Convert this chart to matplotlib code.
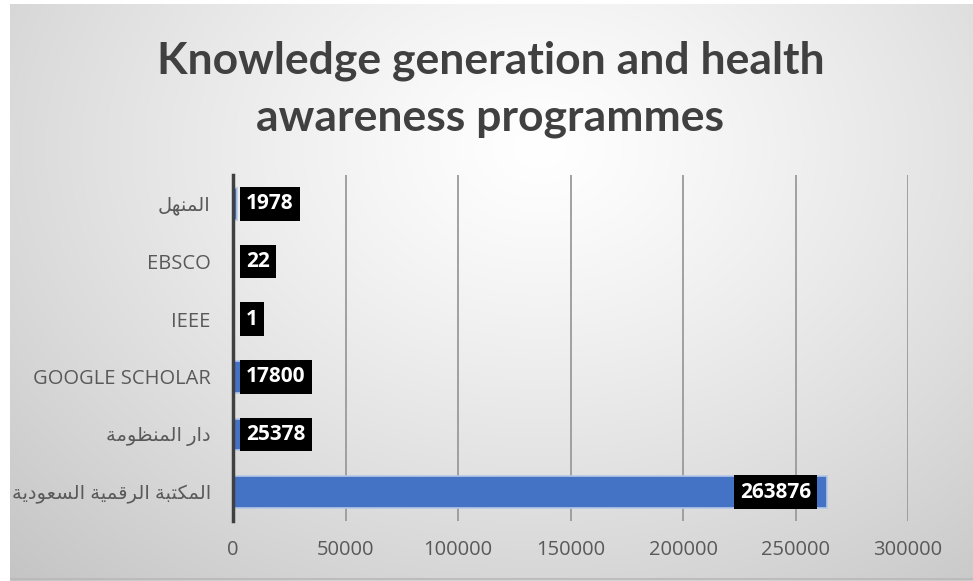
import numpy as np
import matplotlib
matplotlib.use("Agg")
import matplotlib.pyplot as plt

# ---------------- data ----------------
categories = ["المكتبة الرقمية السعودية", "دار المنظومة", "GOOGLE SCHOLAR", "IEEE", "EBSCO", "المنهل"]
values = [263876, 25378, 17800, 1, 22, 1978]
xticks = [0, 50000, 100000, 150000, 200000, 250000, 300000]
title = "Knowledge generation and health\nawareness programmes"

# ---------------- minimal Arabic shaping ----------------
FORMS = {  # isolated, final, initial, medial
    'ا': ('\uFE8D', '\uFE8E', None, None),
    'ب': ('\uFE8F', '\uFE90', '\uFE91', '\uFE92'),
    'ة': ('\uFE93', '\uFE94', None, None),
    'ت': ('\uFE95', '\uFE96', '\uFE97', '\uFE98'),
    'د': ('\uFEA9', '\uFEAA', None, None),
    'ر': ('\uFEAD', '\uFEAE', None, None),
    'س': ('\uFEB1', '\uFEB2', '\uFEB3', '\uFEB4'),
    'ظ': ('\uFEC5', '\uFEC6', '\uFEC7', '\uFEC8'),
    'ع': ('\uFEC9', '\uFECA', '\uFECB', '\uFECC'),
    'ق': ('\uFED5', '\uFED6', '\uFED7', '\uFED8'),
    'ك': ('\uFED9', '\uFEDA', '\uFEDB', '\uFEDC'),
    'ل': ('\uFEDD', '\uFEDE', '\uFEDF', '\uFEE0'),
    'م': ('\uFEE1', '\uFEE2', '\uFEE3', '\uFEE4'),
    'ن': ('\uFEE5', '\uFEE6', '\uFEE7', '\uFEE8'),
    'ه': ('\uFEE9', '\uFEEA', '\uFEEB', '\uFEEC'),
    'و': ('\uFEED', '\uFEEE', None, None),
    'ي': ('\uFEF1', '\uFEF2', '\uFEF3', '\uFEF4'),
}


def dual(c):
    return c in FORMS and FORMS[c][2] is not None


def shape(s):
    if not any(c in FORMS for c in s):
        return s
    out = []
    for i, c in enumerate(s):
        if c not in FORMS:
            out.append(c)
            continue
        prev = s[i - 1] if i > 0 else ''
        nxt = s[i + 1] if i + 1 < len(s) else ''
        jp = dual(prev)
        jn = dual(c) and nxt in FORMS
        f = FORMS[c]
        if jp and jn:
            g = f[3]
        elif jp:
            g = f[1]
        elif jn:
            g = f[2]
        else:
            g = f[0]
        out.append(g)
    return ''.join(out)[::-1]


W, H, DPI = 973, 581, 100
fig = plt.figure(figsize=(W / DPI, H / DPI), dpi=DPI, facecolor='white')

# background radial gradient
bg = fig.add_axes([10 / W, 0, 1 - 10 / W, 1 - 4 / H], zorder=-10)
yy, xx = np.mgrid[0:1:300j, 0:1:500j]
d = np.sqrt(((xx - 0.55) / 0.75) ** 2 + ((yy - 0.25) / 0.95) ** 2)
g = 1.0 - 0.21 * np.clip(d, 0, 1.2) ** 1.2
bg.imshow(np.dstack([g, g, g]), aspect='auto', extent=[0, 1, 1, 0], interpolation='bilinear')
bg.set_xlim(0, 1); bg.set_ylim(1, 0)
bg.axis('off')
bg.plot([0, 1], [0.004, 0.004], color='#b8b8b8', lw=1.2, transform=bg.transAxes)

ax = fig.add_axes([233 / W, 1 - 521 / H, (908 - 233) / W, (521 - 175) / H])
ax.patch.set_alpha(0)

y = np.arange(len(categories))
ax.barh(y, values, height=0.55, color='#4472C4', edgecolor='#b4c7e7', linewidth=1.2, zorder=3)

ax.set_xlim(0, 300000)
ax.set_ylim(-0.5, len(categories) - 0.5)
ax.set_xticks(xticks)
ax.set_xticklabels([str(t) for t in xticks])
ax.set_yticks(y)
ax.set_yticklabels([shape(c) for c in categories])

ax.grid(axis='x', color='#9a9a9a', lw=1.3, zorder=1)
for s in ['top', 'right', 'bottom']:
    ax.spines[s].set_visible(False)
ax.spines['left'].set_color('#404040')
ax.spines['left'].set_linewidth(2.5)
ax.spines['left'].set_zorder(5)
ax.tick_params(axis='both', length=0, colors='#595959', labelsize=14.5)
ax.tick_params(axis='x', pad=14)
ax.tick_params(axis='y', pad=16)
for lab in ax.get_xticklabels():
    lab.set_fontfamily(['Open Sans', 'DejaVu Sans'])
for lab in ax.get_yticklabels():
    lab.set_fontfamily(['Open Sans', 'DejaVu Sans'])
    if any(c in FORMS for c in lab.get_text()) or any('\uFE70' <= c <= '\uFEFF' for c in lab.get_text()):
        lab.set_fontsize(14)

# data labels
for yi, v in zip(y, values):
    if v > 100000:
        x, ha = v - 7000, 'right'
    else:
        x, ha = 5800, 'left'
    ax.text(x, yi, str(v), ha=ha, va='center', color='white', fontsize=15,
            fontweight='bold', family=['Open Sans', 'DejaVu Sans'], zorder=6,
            bbox=dict(boxstyle='square,pad=0.3', fc='black', ec='none'))

fig.text(0.5 + 4 / W, 1 - 89 / H, title, ha='center', va='center', fontsize=32,
         fontweight='bold', color='#404040', family=['Lato', 'Open Sans', 'DejaVu Sans'],
         linespacing=1.5)

fig.savefig('out.png', dpi=DPI, facecolor='white')
